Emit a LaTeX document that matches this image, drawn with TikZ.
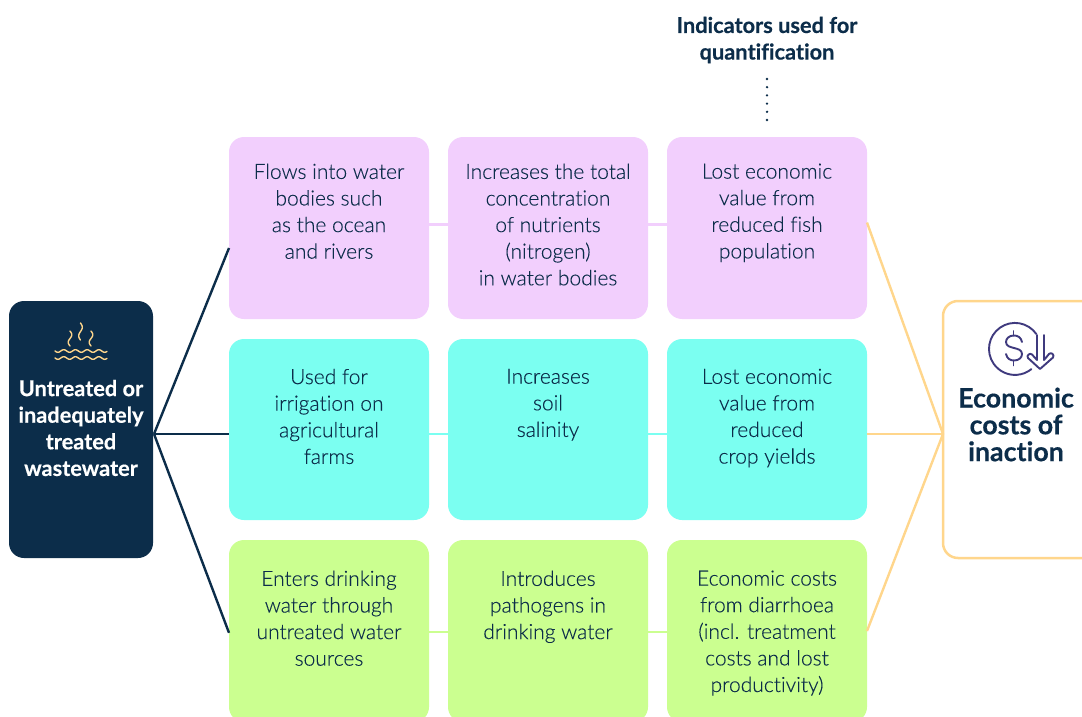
\documentclass[tikz,border=0pt]{standalone}
\usepackage{fontspec}
\setmainfont[Ligatures=CommonOff,BoldFeatures={FakeBold=0.35}]{Lato}
\newfontfamily\lightf[Ligatures=CommonOff,FakeBold=0.2]{Lato Light}
\usetikzlibrary{calc}
\definecolor{navy}{HTML}{0C2D4A}
\definecolor{pinkb}{HTML}{F2CFFD}
\definecolor{cyanb}{HTML}{7BFFF1}
\definecolor{limeb}{HTML}{CBFF90}
\definecolor{amber}{HTML}{FFD68C}
\definecolor{iconp}{HTML}{3F3A7E}
\newcommand{\cardtext}[3]{\parbox[c][#1][t]{198pt}{\centering\lightf\fontsize{21}{26.6}\selectfont\color{navy}\vspace*{#2}#3\par\vfill}}
\tikzset{
  x=1pt,y=-1pt,
  card/.style={rectangle,rounded corners=15pt,minimum width=200pt,inner sep=0pt,outer sep=0pt,anchor=north west},
  pinkcard/.style={card,fill=pinkb},
  cyancard/.style={card,fill=cyanb},
  limecard/.style={card,fill=limeb},
  link/.style={line width=2.4pt},
  hub/.style={rectangle,rounded corners=15pt,minimum width=144pt,minimum height=257pt,inner sep=0pt,outer sep=0pt,anchor=north west},
  head/.style={align=center,font=\bfseries\fontsize{21.8}{26.6}\selectfont,inner sep=0pt},
  steam/.style={amber,line width=1.4pt,line cap=round},
  coin/.style={iconp,line width=1.9pt,line cap=round,line join=round},
}
\begin{document}
\begin{tikzpicture}
\useasboundingbox (0,0) rectangle (1082,717);
% cards
\node[pinkcard] (a1) at (229,137) {\cardtext{182pt}{26.6pt}{Flows into water\\bodies such\\as the ocean\\and rivers}};
\node[pinkcard] (a2) at (448,137) {\cardtext{182pt}{26.6pt}{Increases the total\\concentration\\of nutrients\\(nitrogen)\\in water bodies}};
\node[pinkcard] (a3) at (667,137) {\cardtext{182pt}{26.6pt}{Lost economic\\value from\\reduced fish\\population}};
\node[cyancard] (b1) at (229,339) {\cardtext{181pt}{29.8pt}{Used for\\irrigation on\\agricultural\\farms}};
\node[cyancard] (b2) at (448,339) {\cardtext{181pt}{29.8pt}{Increases\\soil\\salinity}};
\node[cyancard] (b3) at (667,339) {\cardtext{181pt}{29.8pt}{Lost economic\\value from\\reduced\\crop yields}};
\node[limecard] (c1) at (229,540) {\cardtext{182pt}{30.6pt}{Enters drinking\\water through\\untreated water\\sources}};
\node[limecard] (c2) at (448,540) {\cardtext{182pt}{30.6pt}{Introduces\\pathogens in\\drinking water}};
\node[limecard] (c3) at (667,540) {\cardtext{182pt}{30.6pt}{Economic costs\\from diarrhoea\\(incl. treatment\\costs and lost\\productivity)}};
% end boxes
\node[hub,fill=navy] (src) at (9,301) {};
\node[hub,draw=amber,line width=2.5pt,fill=white,minimum width=160pt] (dst) at (943,301) {};
\coordinate (srcport) at (154,434);
\coordinate (dstport) at (943,434);
% connectors from source
\draw[link,navy] (srcport) -- ($(a1.south west)!0.39!(a1.north west)$);
\draw[link,navy] (srcport) -- (b1.west |- srcport);
\draw[link,navy] (srcport) -- ($(c1.north west)!0.51!(c1.south west)$);
% connectors between cards
\draw[link,pinkb] ($(a1.north east)!0.48!(a1.south east)$) -- ($(a2.north west)!0.48!(a2.south west)$);
\draw[link,pinkb] ($(a2.north east)!0.48!(a2.south east)$) -- ($(a3.north west)!0.48!(a3.south west)$);
\draw[link,cyanb] (b1.east |- srcport) -- (b2.west |- srcport);
\draw[link,cyanb] (b2.east |- srcport) -- (b3.west |- srcport);
\draw[link,limeb] ($(c1.north east)!0.505!(c1.south east)$) -- ($(c2.north west)!0.505!(c2.south west)$);
\draw[link,limeb] ($(c2.north east)!0.505!(c2.south east)$) -- ($(c3.north west)!0.505!(c3.south west)$);
% connectors to target
\draw[link,amber] ($(a3.north east)!0.47!(a3.south east)$) -- (dstport);
\draw[link,amber] (b3.east |- dstport) -- (dstport);
\draw[link,amber] ($(c3.north east)!0.50!(c3.south east)$) -- (dstport);
% texts
\node[head,text=white] (srct) at (81,428) {Untreated or\\inadequately\\treated\\wastewater};
\node[head,text=navy,font=\bfseries\fontsize{26.8}{26.8}\selectfont] (dstt) at (1016,424.5) {Economic\\costs of\\inaction};
\node[head,text=navy] (ind) at (767,40) {Indicators used for\\quantification};
\coordinate (dottop) at (767,79);
\draw[navy,line width=2.6pt,line cap=round,dash pattern=on 0pt off 8.2pt] (dottop) -- (a3.north |- 0,121);
% steam icon
\draw[steam] plot[domain=0:52,samples=70,smooth,variable=\t] ({55+\t},{351+1.3*sin(\t*30.8)});
\draw[steam] plot[domain=0:52,samples=70,smooth,variable=\t] ({55+\t},{358+1.3*sin(\t*30.8)});
\draw[steam] plot[domain=0:15,samples=24,smooth,variable=\t] ({70+1.8*sin(\t*24)},{331+\t});
\draw[steam] plot[domain=0:17,samples=24,smooth,variable=\t] ({80.5+1.8*sin(\t*21)},{323+\t});
\draw[steam] plot[domain=0:15,samples=24,smooth,variable=\t] ({91+1.8*sin(\t*24)},{331+\t});
% money icon
\draw[coin] (1036.3,334) arc[start angle=-35,end angle=-309,radius=26];
\draw[coin] (1022,342) .. controls (1021,337.5) and (1018,335.5) .. (1014,335.5) .. controls (1009,335.5) and (1006,338.5) .. (1006,342) .. controls (1006,346) and (1010,347) .. (1014,348) .. controls (1018,349) and (1022,350) .. (1022,354) .. controls (1022,357.5) and (1019,360.5) .. (1014,360.5) .. controls (1010,360.5) and (1007,358.5) .. (1006,354);
\draw[coin] (1013.5,331) -- (1013.5,335.5) (1013.5,360.5) -- (1013.5,365.5);
\draw[coin] (1037,335) -- (1037,360) -- (1032,354.5) .. controls (1030,352.5) and (1026,355.5) .. (1028,358) -- (1040,369) -- (1053,357.5) .. controls (1055,355) and (1051,351.5) .. (1049,354) -- (1044,360) -- (1044,335);
\end{tikzpicture}
\end{document}
